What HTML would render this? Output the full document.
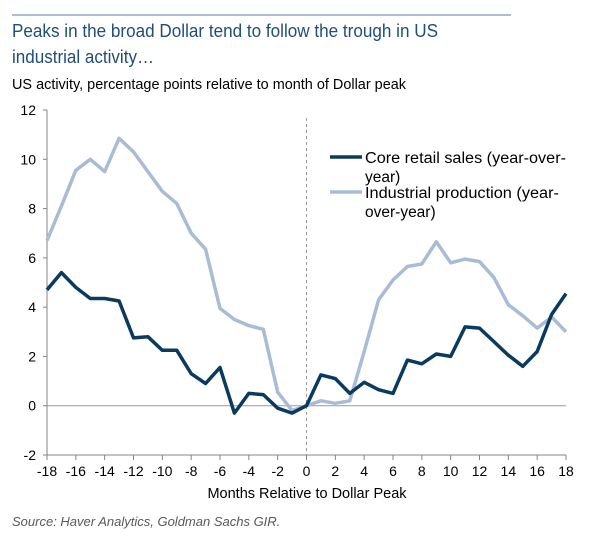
<!DOCTYPE html>
<html><head><meta charset="utf-8"><style>
body{margin:0;background:#fff;}
svg{display:block;font-family:"Liberation Sans",Arial,sans-serif;}
</style></head><body>
<svg id="chart" width="600" height="538">
<line x1="12" y1="15" x2="511" y2="15" stroke="#8fa8c8" stroke-width="1.5"/>
<text x="12" y="37" font-size="18" fill="#1f4e79" textLength="426" lengthAdjust="spacingAndGlyphs">Peaks in the broad Dollar tend to follow the trough in US</text>
<text x="12" y="63" font-size="18" fill="#1f4e79" textLength="142" lengthAdjust="spacingAndGlyphs">industrial activity…</text>
<text x="12" y="89" font-size="14.5" fill="#000" textLength="394" lengthAdjust="spacingAndGlyphs">US activity, percentage points relative to month of Dollar peak</text>
<g id="axes"></g>
<g id="series"></g>
<g>
<line x1="330" y1="157" x2="362" y2="157" stroke="#0b3a5f" stroke-width="3.5"/>
<text x="365" y="163" font-size="15.5" fill="#000" textLength="201" lengthAdjust="spacingAndGlyphs">Core retail sales (year-over-</text>
<text x="365" y="182" font-size="15.5" fill="#000">year)</text>
<line x1="330" y1="192" x2="362" y2="192" stroke="#a9bcd6" stroke-width="3.5"/>
<text x="365" y="198" font-size="15.5" fill="#000" textLength="194" lengthAdjust="spacingAndGlyphs">Industrial production (year-</text>
<text x="365" y="217" font-size="15.5" fill="#000">over-year)</text>
</g>
<text x="307" y="498" font-size="14.5" text-anchor="middle" fill="#000">Months Relative to Dollar Peak</text>
<text x="12" y="526" font-size="13" font-style="italic" fill="#595959">Source: Haver Analytics, Goldman Sachs GIR.</text>
</svg>
<script>
const months = [];
for (let m = -18; m <= 18; m++) months.push(m);
const retailSales = [4.7,5.4,4.8,4.35,4.35,4.25,2.75,2.8,2.25,2.25,1.3,0.9,1.55,-0.3,0.5,0.45,-0.1,-0.3,0,1.25,1.1,0.5,0.95,0.65,0.5,1.85,1.7,2.1,2.0,3.2,3.15,2.6,2.05,1.6,2.2,3.7,4.55];
const industrialProduction = [6.7,8.1,9.55,10.0,9.5,10.85,10.3,9.5,8.7,8.2,7.0,6.35,3.95,3.5,3.25,3.1,0.55,-0.2,0,0.2,0.1,0.2,2.2,4.3,5.1,5.65,5.75,6.65,5.8,5.95,5.85,5.2,4.1,3.65,3.15,3.6,3.0];
const yTicks = [-2,0,2,4,6,8,10,12];
const xTicks = [-18,-16,-14,-12,-10,-8,-6,-4,-2,0,2,4,6,8,10,12,14,16,18];

const X0 = 47, X1 = 566, Y0 = 455, Y1 = 110;
const xs = m => X0 + (m + 18) / 36 * (X1 - X0);
const ys = v => Y0 - (v + 2) / 14 * (Y0 - Y1);
const NS = "http://www.w3.org/2000/svg";
const axes = document.getElementById('axes');
const series = document.getElementById('series');
function mk(tag, attrs, parent) {
  const e = document.createElementNS(NS, tag);
  for (const k in attrs) e.setAttribute(k, attrs[k]);
  parent.appendChild(e);
  return e;
}
let e = mk('line', {x1: X0, y1: Y1, x2: X0, y2: Y0, stroke: '#868686', 'stroke-width': 1}, axes);


yTicks.forEach(t => {
  const tk = mk('line', {x1: X0 - 4, y1: ys(t), x2: X0, y2: ys(t), stroke: '#868686'}, axes);
  
  
  const lb = mk('text', {x: 36, y: ys(t) + 5, 'font-size': 14, 'text-anchor': 'end', fill: '#000'}, axes);
  lb.textContent = t;
  
  
});
e = mk('line', {x1: X0, y1: ys(0), x2: X1, y2: ys(0), stroke: '#9a9a9a', 'stroke-width': 1}, axes);


e = mk('line', {x1: X0, y1: Y0, x2: X1, y2: Y0, stroke: '#868686', 'stroke-width': 1}, axes);


e = mk('line', {x1: xs(0), y1: Y1 + 8, x2: xs(0), y2: Y0, stroke: '#9a9a9a', 'stroke-dasharray': '3,3'}, axes);


xTicks.forEach(t => {
  const tk = mk('line', {x1: xs(t), y1: Y0, x2: xs(t), y2: Y0 + 5, stroke: '#868686'}, axes);
  
  
  const lb = mk('text', {x: xs(t), y: 476, 'font-size': 14, 'text-anchor': 'middle', fill: '#000'}, axes);
  lb.textContent = t;
  
  
});
function line(vals, color, name) {
  const d = vals.map((v, i) => (i ? 'L' : 'M') + xs(months[i]).toFixed(1) + ',' + ys(v).toFixed(1)).join('');
  const p = mk('path', {d: d, fill: 'none', stroke: color, 'stroke-width': 3.5, 'stroke-linejoin': 'round'}, series);
  
  
}
line(industrialProduction, '#a9bcd6', 'industrial-production-line');
line(retailSales, '#0b3a5f', 'core-retail-sales-line');
</script>
</body></html>
